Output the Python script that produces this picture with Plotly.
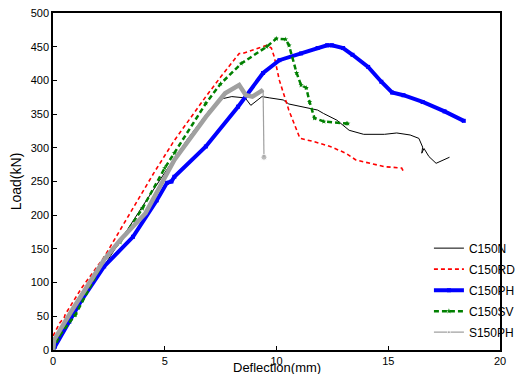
import plotly.graph_objects as go

# ---- data ----
c150n_x = [0, 0.1, 0.5, 1, 2, 3, 4, 5, 6, 7, 7.6, 8.0, 8.6, 8.85, 9.06, 9.35, 9.7, 10.3, 10.55,
           11.4, 11.84, 12.1, 12.7, 13.25, 13.9, 14.83, 15.38, 15.98, 16.37, 16.54, 16.5, 16.6,
           16.82, 17.14, 17.4, 17.74]
c150n_y = [0, 12, 35, 58, 110, 162, 213, 263, 312, 356, 373, 376, 374, 363, 368, 376, 374, 371, 365,
           359, 356, 351, 341, 326, 320, 320, 322, 319, 314, 301, 292, 299,
           287, 277, 281, 286]

c150rd_x = [0, 0.02, 0.3, 0.5, 0.55, 1.28, 2.29, 3.5, 4.5, 5.43, 6.2, 6.84, 7.5, 8.12, 8.33, 8.49,
            8.85, 9.56, 9.77, 9.9, 10.13, 10.55, 11.05, 11.7, 12.4, 13.1, 13.55, 14.83, 15.6, 15.68]
c150rd_y = [0, 22, 40, 48, 53, 92, 138, 205, 262, 311, 347, 376, 405, 430, 440, 440,
            444, 452, 448, 435, 400, 356, 314, 309, 302, 292, 282, 272, 270, 265]

c150ph_x = [0, 0.09, 0.73, 1.28, 2.29, 3.58, 4.64, 5.1, 5.3, 5.43, 6.84, 8.28, 9.4, 10.13, 11.1,
            11.84, 12.26, 12.48, 12.98, 13.4, 14.1, 14.69, 15.17, 15.68, 16.54, 17.52, 18.38]
c150ph_y = [0, 5, 42, 74, 124, 168, 222, 248, 250, 257, 302, 361, 411, 430, 440,
            448, 452, 452, 448, 438, 420, 398, 382, 378, 368, 354, 340]

c150sv_x = [0, 0.3, 1, 2.36, 3, 4, 5, 5.43, 6.84, 7.5, 8.42, 9.56, 9.99, 10.41, 10.56, 10.9, 11.1,
            11.33, 11.48, 11.7, 12.12, 13.12, 13.19]
c150sv_y = [0, 22, 52, 138, 160, 210, 270, 292, 366, 395, 425, 450, 462, 461, 452, 411, 393,
            389, 368, 344, 339, 336, 336]

s150ph_x = [0, 0.05, 0.5, 0.85, 2.29, 3, 4.14, 5, 5.43, 6.84, 7.7, 8.33, 8.63, 8.92, 9.35, 9.4, 9.44]
s150ph_y = [0, 15, 40, 59, 134, 163, 203, 258, 282, 346, 381, 393, 378, 376, 386, 386, 286]

x_ticks = [0, 5, 10, 15, 20]
y_ticks = [0, 50, 100, 150, 200, 250, 300, 350, 400, 450, 500]

FONT = "Liberation Sans, Arial, sans-serif"

fig = go.Figure()

fig.add_trace(go.Scatter(x=c150n_x, y=c150n_y, name="C150N", mode="lines", legendgroup="a",
                         line=dict(color="black", width=1)))
fig.add_trace(go.Scatter(x=c150rd_x, y=c150rd_y, name="C150RD", mode="lines", legendgroup="b",
                         line=dict(color="#ff0000", width=1.6, dash="4px,3px")))
fig.add_trace(go.Scatter(x=c150ph_x, y=c150ph_y, name="C150PH", mode="lines+markers",
                         legendgroup="c",
                         line=dict(color="#0000ff", width=4),
                         marker=dict(symbol="square", size=4, color="#0000ff")))
fig.add_trace(go.Scatter(x=c150sv_x, y=c150sv_y, name="C150SV", mode="lines+markers",
                         legendgroup="d",
                         line=dict(color="#008000", width=2.5, dash="5px,3px"),
                         marker=dict(symbol="star", size=4, color="#008000")))
# S150PH: thick rising part, thin final drop ending with a marker
fig.add_trace(go.Scatter(x=s150ph_x[:-1], y=s150ph_y[:-1], name="S150PH", mode="lines",
                         legendgroup="e", showlegend=False,
                         line=dict(color="#a0a0a0", width=4.5)))
fig.add_trace(go.Scatter(x=s150ph_x[-2:], y=s150ph_y[-2:], name="S150PH", mode="lines+markers",
                         legendgroup="e",
                         line=dict(color="#a0a0a0", width=1.2),
                         marker=dict(symbol="circle", size=[0, 6], color="#a0a0a0")))

axis_common = dict(showline=True, linecolor="black", linewidth=1.5, mirror=True,
                   showgrid=False, zeroline=False, ticks="inside", ticklen=4,
                   tickcolor="black", tickfont=dict(family=FONT, size=11, color="black"))

fig.update_xaxes(range=[0, 20], tickvals=x_ticks, **axis_common)
fig.update_yaxes(range=[0, 500], tickvals=y_ticks,
                 title=dict(text="Load(kN)", font=dict(family=FONT, size=14, color="black"),
                            standoff=6),
                 **axis_common)

fig.add_annotation(text="Deflection(mm)", xref="paper", yref="paper", x=0.5, y=0,
                   yshift=-17, showarrow=False, yanchor="middle",
                   font=dict(family=FONT, size=13, color="black"))

fig.update_layout(
    width=527, height=374,
    margin=dict(l=53, r=6, t=13, b=24),
    paper_bgcolor="white", plot_bgcolor="white",
    font=dict(family=FONT, color="black"),
    legend=dict(x=0.841, y=0.01, xanchor="left", yanchor="bottom",
                traceorder="grouped", tracegroupgap=2,
                font=dict(family=FONT, size=12, color="black"),
                bgcolor="rgba(0,0,0,0)", borderwidth=0),
)

fig.write_html("out.html")
